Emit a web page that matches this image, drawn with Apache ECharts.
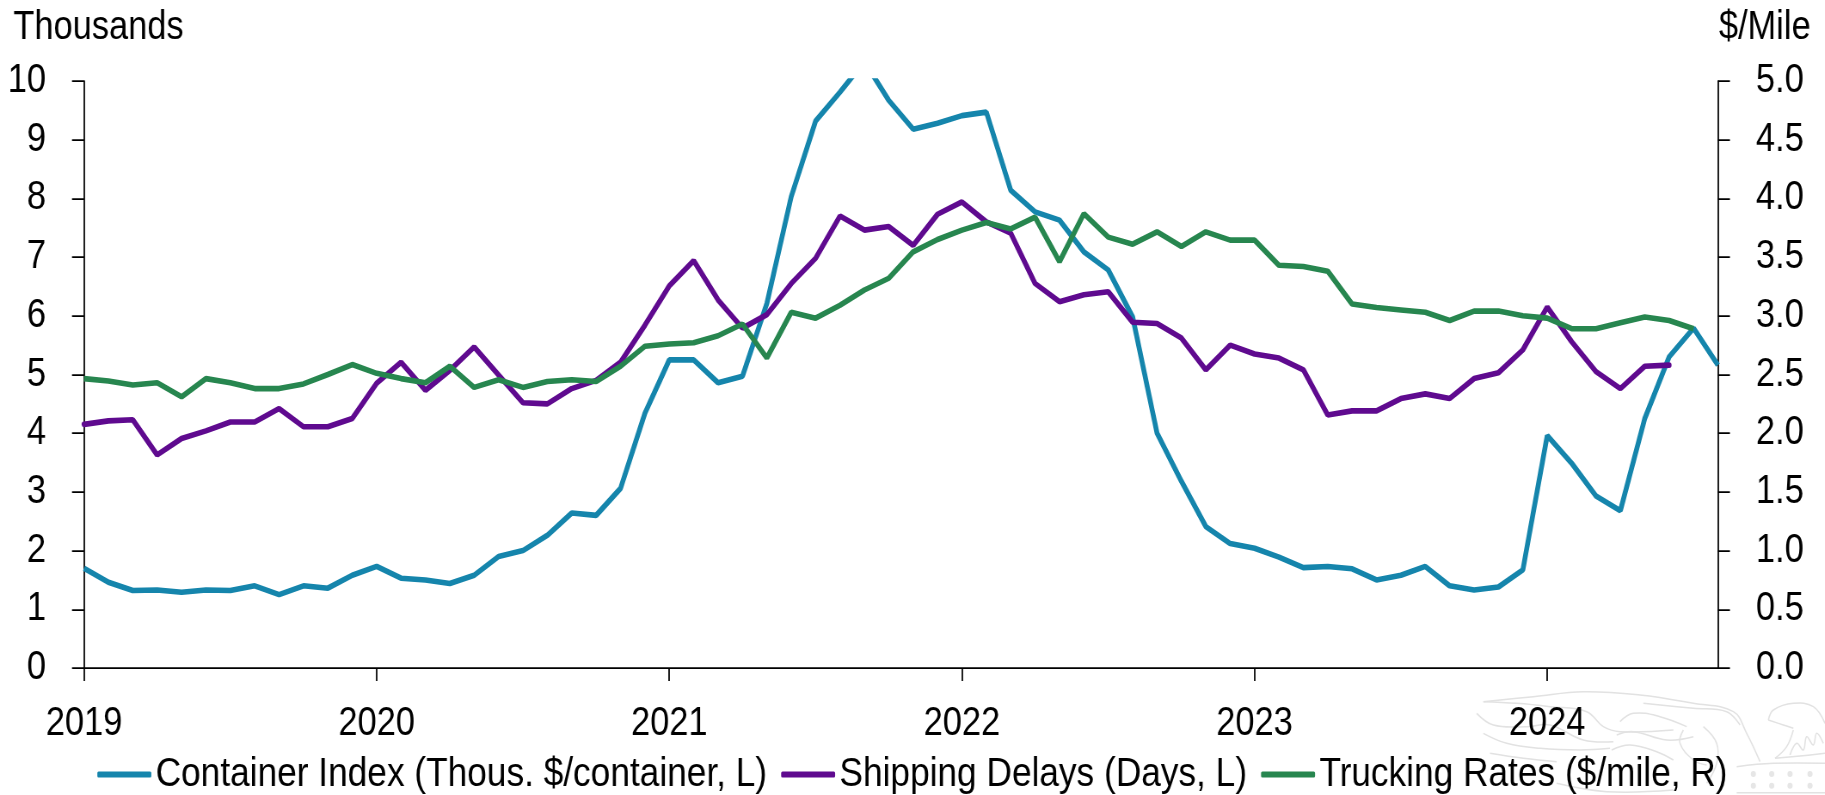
<!DOCTYPE html>
<html>
<head>
<meta charset="utf-8">
<title>Container, shipping and trucking</title>
<script src="https://cdn.jsdelivr.net/npm/echarts@6/dist/echarts.min.js"></script>
<style>
    html, body { margin: 0; padding: 0; background: #fff; overflow: hidden; }
    /* 参考图的文字是窄体, 这里把整张图横向压缩 */
    #chart { width: 2122px; height: 795px; transform: scaleX(0.86); transform-origin: 0 0; }
</style>
</head>
<body>
<div id="chart"></div>
<script>
const months = [
    '2019-01','2019-02','2019-03','2019-04','2019-05','2019-06','2019-07','2019-08','2019-09','2019-10','2019-11','2019-12',
    '2020-01','2020-02','2020-03','2020-04','2020-05','2020-06','2020-07','2020-08','2020-09','2020-10','2020-11','2020-12',
    '2021-01','2021-02','2021-03','2021-04','2021-05','2021-06','2021-07','2021-08','2021-09','2021-10','2021-11','2021-12',
    '2022-01','2022-02','2022-03','2022-04','2022-05','2022-06','2022-07','2022-08','2022-09','2022-10','2022-11','2022-12',
    '2023-01','2023-02','2023-03','2023-04','2023-05','2023-06','2023-07','2023-08','2023-09','2023-10','2023-11','2023-12',
    '2024-01','2024-02','2024-03','2024-04','2024-05','2024-06','2024-07','2024-08'
];

// 集装箱指数 (千美元/箱, 左轴)
const containerIndex = [
    1.70,1.46,1.32,1.33,1.29,1.33,1.32,1.40,1.25,1.40,1.36,1.58,
    1.73,1.53,1.50,1.44,1.58,1.90,2.00,2.26,2.64,2.60,3.06,4.34,
    5.25,5.25,4.86,4.97,6.21,8.03,9.32,9.81,10.33,9.67,9.18,9.28,
    9.41,9.47,8.14,7.77,7.63,7.09,6.78,5.98,4.00,3.18,2.41,2.12,
    2.04,1.89,1.71,1.73,1.69,1.50,1.58,1.73,1.40,1.33,1.38,1.67,
    3.96,3.49,2.93,2.68,4.25,5.30,5.79,5.16
];

// 航运延误 (天, 左轴)
const shippingDelays = [
    4.15,4.21,4.23,3.63,3.91,4.04,4.19,4.19,4.42,4.11,4.11,4.25,
    4.85,5.21,4.73,5.07,5.47,4.99,4.52,4.50,4.76,4.90,5.21,5.84,
    6.51,6.94,6.27,5.79,6.02,6.55,6.98,7.70,7.46,7.52,7.20,7.73,
    7.94,7.60,7.41,6.55,6.24,6.36,6.41,5.89,5.87,5.62,5.08,5.50,
    5.35,5.28,5.08,4.31,4.38,4.38,4.59,4.67,4.59,4.93,5.03,5.42,
    6.15,5.56,5.05,4.76,5.14,5.16,null,null
];

// 卡车运费 ($/mile, 右轴)
const truckingRates = [
    2.465,2.445,2.41,2.43,2.31,2.465,2.43,2.38,2.38,2.42,2.50,2.585,
    2.51,2.465,2.43,2.57,2.39,2.455,2.39,2.44,2.455,2.44,2.57,2.74,
    2.76,2.77,2.83,2.93,2.64,3.03,2.98,3.09,3.22,3.32,3.545,3.65,
    3.73,3.795,3.74,3.84,3.46,3.87,3.67,3.61,3.715,3.59,3.715,3.645,
    3.645,3.43,3.42,3.38,3.10,3.07,3.05,3.03,2.96,3.04,3.04,3.00,
    2.98,2.89,2.89,2.94,2.99,2.96,2.89,null
];

const squeeze = 0.86;
const fontName = '"Liberation Sans", Arial, sans-serif';
const fontSize = 40;
const axisStyle = { color: '#000', width: 1.75 };

// 页面像素 -> 压缩前的画布像素
const px = (x) => x / squeeze;

// 右下角水印的线条 (按裁剪图坐标取的, 只是装饰)
const watermarkLines = [
    [[130,95],[280,80],[430,65],[600,75],[760,100],[880,125],[920,190],[960,275]],
    [[610,100],[760,115],[860,125],[900,165]],
    [[130,95],[230,100],[330,110],[440,125],[490,170],[540,185],[700,180]],
    [[110,130],[160,165],[260,170],[330,165],[430,210],[520,215]],
    [[130,190],[200,220],[300,235],[420,240],[510,235]],
    [[150,250],[250,265],[350,275]],
    [[540,155],[580,130],[660,140],[740,170]],
    [[530,195],[580,185],[680,210],[760,200]],
    [[515,240],[570,225],[650,245],[700,270]],
    [[730,180],[720,220],[760,270],[800,285]],
    [[790,170],[830,220],[830,280],[800,340]],
    [[350,340],[500,365],[700,360]],
    [[985,150],[1000,120],[1060,100],[1120,110],[1155,160]],
    [[985,150],[1030,165],[1060,175]],
    [[1060,180],[1040,230],[1005,265]],
    [[1050,255],[1070,220],[1090,240],[1100,200],[1120,225],[1130,190],[1150,220]],
    [[1005,265],[1080,258],[1155,250]],
    [[890,290],[1000,280],[1155,280]],
    [[890,368],[1155,368]]
];
const watermarkStars = [
    [940,312],[995,312],[1050,312],[1110,312],
    [940,347],[995,347],[1050,347],[1110,347]
];

function watermarkGraphic() {
    const toPage = ([x, y]) => [px(1440 + x / 3), 670 + y / 3];
    const lines = watermarkLines.map((points) => ({
        type: 'polyline',
        z: -1,
        silent: true,
        shape: { points: points.map(toPage), smooth: 0.4 },
        style: { fill: null, stroke: '#e2e2e2', lineWidth: 1.5 }
    }));
    const stars = watermarkStars.map((point) => {
        const [x, y] = toPage(point);
        return {
            type: 'circle',
            z: -1,
            silent: true,
            shape: { cx: x, cy: y, r: 3 },
            style: { fill: '#e6e6e6' }
        };
    });
    return lines.concat(stars);
}

function initChart() {
    const myChart = echarts.init(document.getElementById('chart'));

    const option = {
        backgroundColor: '#fff',
        animation: false,
        textStyle: { fontFamily: fontName, fontSize: fontSize, color: '#000' },
        grid: { left: px(84), right: px(107), top: 81, bottom: 127 },
        graphic: watermarkGraphic(),
        title: [
            { text: 'Thousands', left: px(9), top: 3, textStyle: { fontFamily: fontName, fontSize: fontSize, fontWeight: 'normal', color: '#000' } },
            { text: '$/Mile', right: px(10), top: 3, textStyle: { fontFamily: fontName, fontSize: fontSize, fontWeight: 'normal', color: '#000' } }
        ],
        legend: {
            left: px(93),
            top: 749,
            itemWidth: px(54),
            itemHeight: 6,
            itemGap: px(14),
            icon: 'roundRect',
            textStyle: { fontFamily: fontName, fontSize: 41, color: '#000' }
        },
        xAxis: {
            type: 'category',
            data: months,
            boundaryGap: false,
            axisLine: { lineStyle: axisStyle },
            axisTick: {
                length: 13,
                lineStyle: axisStyle,
                interval: (index) => index % 12 === 0
            },
            axisLabel: {
                margin: 36,
                interval: (index) => index % 12 === 0,
                formatter: (value) => value.slice(0, 4),
                fontFamily: fontName,
                fontSize: fontSize,
                color: '#000'
            }
        },
        yAxis: [
            {
                type: 'value',
                min: 0,
                max: 10,
                interval: 1,
                splitLine: { show: false },
                axisLine: { show: true, lineStyle: axisStyle },
                axisTick: { show: true, length: px(12), lineStyle: axisStyle },
                axisLabel: { margin: px(38), padding: [10, 0, 0, 0], fontFamily: fontName, fontSize: fontSize, color: '#000' }
            },
            {
                type: 'value',
                position: 'right',
                min: 0,
                max: 5,
                interval: 0.5,
                splitLine: { show: false },
                axisLine: { show: true, lineStyle: axisStyle },
                axisTick: { show: true, length: px(12), lineStyle: axisStyle },
                axisLabel: {
                    margin: px(38),
                    padding: [10, 0, 0, 0],
                    formatter: (value) => value.toFixed(1),
                    fontFamily: fontName,
                    fontSize: fontSize,
                    color: '#000'
                }
            }
        ],
        series: [
            {
                name: 'Container Index (Thous. $/container, L)',
                type: 'line',
                yAxisIndex: 0,
                data: containerIndex,
                symbol: 'none',
                itemStyle: { color: '#1585AC' },
                lineStyle: { color: '#1585AC', width: 5.6 }
            },
            {
                name: 'Shipping Delays (Days, L)',
                type: 'line',
                yAxisIndex: 0,
                data: shippingDelays,
                symbol: 'none',
                itemStyle: { color: '#5F0A8F' },
                lineStyle: { color: '#5F0A8F', width: 5.6, cap: 'round' }
            },
            {
                name: 'Trucking Rates ($/mile, R)',
                type: 'line',
                yAxisIndex: 1,
                data: truckingRates,
                symbol: 'none',
                itemStyle: { color: '#27864F' },
                lineStyle: { color: '#27864F', width: 5.6 }
            }
        ]
    };

    myChart.setOption(option);

    window.addEventListener('resize', () => {
        myChart.resize();
    });
}

initChart();
</script>
</body>
</html>
